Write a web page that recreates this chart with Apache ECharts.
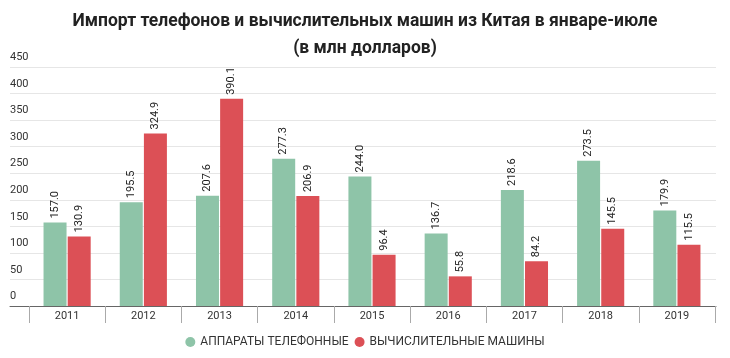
<!DOCTYPE html>
<html><head><meta charset="utf-8">
<script src="https://cdn.jsdelivr.net/npm/echarts@6/dist/echarts.min.js"></script>
<style>html,body{margin:0;padding:0;background:#fff}#c{width:730px;height:358px}</style>
</head><body><div id="c"></div>
<script>
const years = ['2011','2012','2013','2014','2015','2016','2017','2018','2019'];
const phones = [157.0,195.5,207.6,277.3,244.0,136.7,218.6,273.5,179.9];
const computers = [130.9,324.9,390.1,206.9,96.4,55.8,84.2,145.5,115.5];
const seriesNames = ['АППАРАТЫ ТЕЛЕФОННЫЕ','ВЫЧИСЛИТЕЛЬНЫЕ МАШИНЫ'];
const titleText = 'Импорт телефонов и вычислительных машин из Китая в январе-июле\n(в млн долларов)';

const chart = echarts.init(document.getElementById('c'));
const lbl = {show:true, position:'top', rotate:90, align:'left', verticalAlign:'middle', distance:4,
  fontFamily:'Roboto', fontSize:11, color:'#222', formatter: p => p.value.toFixed(1)};
chart.setOption({
  animation:false,
  title:{text:titleText, left:'center', top:3,
    textStyle:{fontFamily:'Roboto', fontWeight:'bold', fontSize:17.5, color:'#222', lineHeight:27}},
  legend:{bottom:5, left:'center', icon:'circle', itemWidth:10, itemHeight:10, itemGap:6,
    textStyle:{fontFamily:'Roboto', fontSize:12, color:'#333'}},
  grid:[
    {left:10, right:14, top:67, bottom:52, containLabel:false},
    {left:29, right:15, top:67, bottom:52, containLabel:false}
  ],
  xAxis:[
    {gridIndex:0, type:'value', min:0, max:1, axisLabel:{show:false}, axisTick:{show:false},
      splitLine:{show:false}, axisLine:{show:true, lineStyle:{color:'#666', width:1}}},
    {gridIndex:1, type:'category', data:years,
      axisLine:{lineStyle:{color:'#666', width:1}},
      axisTick:{show:true, length:17, lineStyle:{color:'#aaa'}},
      axisLabel:{fontFamily:'Roboto', fontSize:11, color:'#333', margin:5}}
  ],
  yAxis:[
    {gridIndex:0, type:'value', min:0, max:450, interval:50,
      axisLine:{show:false}, axisTick:{show:false},
      splitLine:{lineStyle:{color:'#e6e6e6'}},
      axisLabel:{inside:true, margin:0, verticalAlign:'bottom', padding:[0,0,4,0],
        fontFamily:'Roboto', fontSize:11, color:'#333'}},
    {gridIndex:1, type:'value', min:0, max:450, interval:50, show:false, splitLine:{show:false}}
  ],
  series:[
    {name:seriesNames[0], type:'bar', xAxisIndex:1, yAxisIndex:1, data:phones,
      barWidth:23, barGap:'5%', itemStyle:{color:'#8ec4a8'}, label:lbl},
    {name:seriesNames[1], type:'bar', xAxisIndex:1, yAxisIndex:1, data:computers,
      barWidth:23, barGap:'5%', itemStyle:{color:'#dc5056'}, label:lbl}
  ]
});
</script></body></html>
